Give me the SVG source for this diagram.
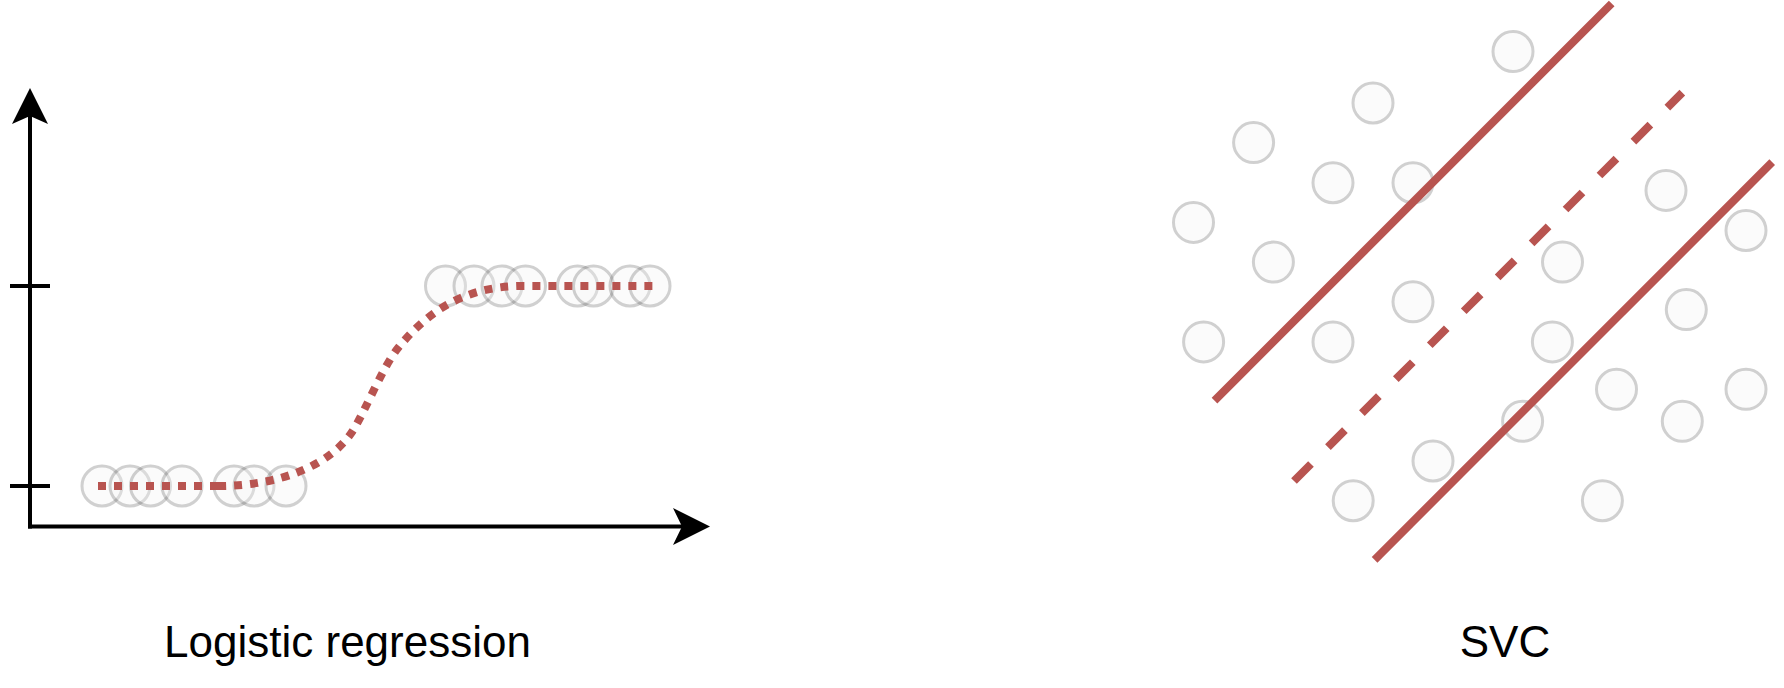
<svg xmlns="http://www.w3.org/2000/svg" width="1784" height="688" viewBox="0 0 1784 688">
<style>
.pt{fill:#f5f5f5;stroke:#666666;stroke-width:3;opacity:0.3}
.axis{stroke:#000;stroke-width:4;fill:none}
.head{fill:#000;stroke:none}
.red{stroke:#b85450;fill:none}
.dot{stroke-width:8;stroke-dasharray:8 8}
.solid{stroke-width:8}
.dash{stroke-width:8;stroke-dasharray:24 24}
.lbl{font-family:"Liberation Sans",Arial,Helvetica,sans-serif;font-size:44px;fill:#000;text-anchor:middle}
</style>
<rect width="1784" height="688" fill="#ffffff"/>
<g id="logistic-points">
<circle class="pt" cx="102" cy="486" r="20"/>
<circle class="pt" cx="130" cy="486" r="20"/>
<circle class="pt" cx="150.5" cy="486" r="20"/>
<circle class="pt" cx="182" cy="486" r="20"/>
<circle class="pt" cx="234" cy="486" r="20"/>
<circle class="pt" cx="254" cy="486" r="20"/>
<circle class="pt" cx="286" cy="486" r="20"/>
<circle class="pt" cx="445.5" cy="286" r="20"/>
<circle class="pt" cx="474" cy="286" r="20"/>
<circle class="pt" cx="502" cy="286" r="20"/>
<circle class="pt" cx="525.5" cy="286" r="20"/>
<circle class="pt" cx="577.5" cy="286" r="20"/>
<circle class="pt" cx="593.5" cy="286" r="20"/>
<circle class="pt" cx="630" cy="286" r="20"/>
<circle class="pt" cx="650" cy="286" r="20"/>
</g>
<g id="svc-points">
<circle class="pt" cx="1513" cy="51.5" r="20"/>
<circle class="pt" cx="1373" cy="103" r="20"/>
<circle class="pt" cx="1253.6" cy="142.6" r="20"/>
<circle class="pt" cx="1333" cy="182.7" r="20"/>
<circle class="pt" cx="1413" cy="182.7" r="20"/>
<circle class="pt" cx="1193.5" cy="222.4" r="20"/>
<circle class="pt" cx="1273.4" cy="262.1" r="20"/>
<circle class="pt" cx="1666" cy="190.4" r="20"/>
<circle class="pt" cx="1746" cy="230.5" r="20"/>
<circle class="pt" cx="1562.5" cy="262.1" r="20"/>
<circle class="pt" cx="1413" cy="301.8" r="20"/>
<circle class="pt" cx="1203.6" cy="341.9" r="20"/>
<circle class="pt" cx="1333" cy="341.9" r="20"/>
<circle class="pt" cx="1552.4" cy="341.9" r="20"/>
<circle class="pt" cx="1686.3" cy="309.6" r="20"/>
<circle class="pt" cx="1616.5" cy="389.3" r="20"/>
<circle class="pt" cx="1746" cy="389.3" r="20"/>
<circle class="pt" cx="1522.6" cy="421.3" r="20"/>
<circle class="pt" cx="1682.3" cy="421.3" r="20"/>
<circle class="pt" cx="1433" cy="461" r="20"/>
<circle class="pt" cx="1353.2" cy="500.7" r="20"/>
<circle class="pt" cx="1602.4" cy="500.7" r="20"/>
</g>
<g id="connectors">
<line class="axis" x1="30" y1="528.5" x2="30" y2="114"/>
<polygon class="head" points="30,88 48,124 30,116 12,124"/>
<line class="axis" x1="28" y1="526.5" x2="684" y2="526.5"/>
<polygon class="head" points="710,526.5 673,545 682,526.5 673,508"/>
<line class="axis" x1="10" y1="286" x2="50" y2="286"/>
<line class="axis" x1="10" y1="486" x2="50" y2="486"/>
<path class="red dot" d="M98,486 L218,486"/>
<path class="red dot" d="M218,486 C280,486 330,465 352,432 C365,412 382,368 398,348 C425,315 460,287 520,286 L659,286"/>
<line class="red solid" x1="1214.5" y1="400.7" x2="1611.7" y2="3.5"/>
<line class="red solid" x1="1374.6" y1="559.8" x2="1772.2" y2="162.2"/>
<line class="red dash" x1="1294" y1="481" x2="1682.3" y2="92.7"/>
</g>
<g id="label-logistic"><text class="lbl" x="347.5" y="657">Logistic regression</text></g>
<g id="label-svc"><text class="lbl" x="1505" y="657">SVC</text></g>
</svg>
